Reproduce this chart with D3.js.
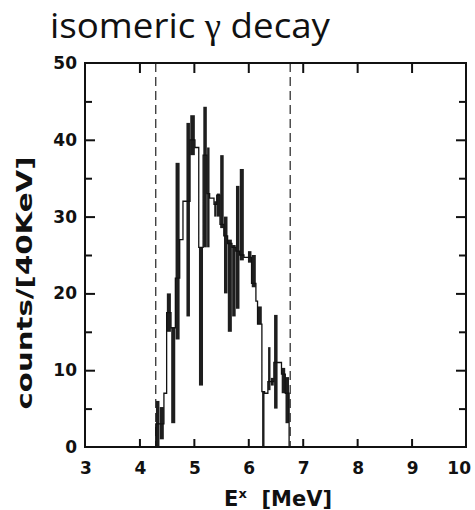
<!doctype html>
<meta charset="utf-8">
<style>
body { margin: 0; background: #fff; }
svg text { fill: #111; }
.tick-lbl { font-family: "DejaVu Sans", sans-serif; font-weight: bold; font-size: 17px; }
</style>
<body>
<div id="viz"></div>
<script src="https://cdn.jsdelivr.net/npm/d3@7"></script>
<script>
// histogram bins (left edge in MeV), last bin ends at binEnd
var binLeft = [4.30, 4.37, 4.45, 4.50, 4.58, 4.66, 4.74, 4.80, 4.86, 4.93, 5.02, 5.09,
               5.17, 5.24, 5.29, 5.37, 5.42, 5.48, 5.55, 5.62, 5.70, 5.77, 5.84, 5.92,
               5.99, 6.06, 6.14, 6.17, 6.25, 6.30, 6.36, 6.41, 6.47, 6.54, 6.61, 6.68];
var binEnd = 6.75;
var counts = [3, 3, 7, 17.5, 15.5, 22, 27, 32, 32, 40, 39, 26,
              38, 33, 32.4, 31.6, 32.8, 29, 27.5, 26.5, 26, 25.5, 25, 24.7,
              24.7, 21.3, 19, 16, 7.2, 7, 8.5, 8.5, 11, 11, 9.5, 7];
// thick error bars (null = none)
var errLo = [0, 1, null, 15, 3.1, 14, null, null, 17, 38, null, 8,
             26, 26, null, 30, 30, 28.5, 20, 15, 17, 18, 24.3, null,
             24, 20.8, null, 16, 0, null, 7.4, 8, 5, null, 7, 3.1];
var errHi = [6, 5.2, null, 20, 15.6, 37, null, null, 42.2, 43.2, null, 26,
             44.3, 39, null, 32, 33, 38, 30, 27, 26.3, 34, 36.2, null,
             25.5, 25, null, 18.3, 7.2, null, 13, 9, 17.2, null, 10.3, 9.1];
var cutLines = [4.30, 6.77];
var xTicks = [3, 4, 5, 6, 7, 8, 9, 10];
var yTicks = [0, 10, 20, 30, 40, 50];
var yMinor = [5, 15, 25, 35, 45];

var W = 475, H = 510;
var svg = d3.select("#viz").append("svg").attr("width", W).attr("height", H);

var x = d3.scaleLinear().domain([3, 10]).range([85, 466]);
var y = d3.scaleLinear().domain([0, 50]).range([447, 63]);

// title
var tt = svg.append("text").attr("x", 50).attr("y", 38)
    .style("font-family", "'Open Sans', sans-serif").style("font-size", "35px")
    .attr("textLength", 280).attr("lengthAdjust", "spacingAndGlyphs");
tt.append("tspan").text("isomeric ");
tt.append("tspan").style("font-family", "'Liberation Serif', serif").text("γ");
tt.append("tspan").text(" decay");

// dashed cut lines
svg.selectAll("line.cut").data(cutLines).enter().append("line")
    .attr("class", "cut")
    .attr("x1", d => x(d)).attr("x2", d => x(d))
    .attr("y1", y(50)).attr("y2", y(0))
    .attr("stroke", "#222").attr("stroke-width", 1.2)
    .attr("stroke-dasharray", "9,5");

// error bars
var bins = binLeft.map(function(d, i) {
    return {x0: d, x1: i < binLeft.length - 1 ? binLeft[i + 1] : binEnd,
            c: counts[i], lo: errLo[i], hi: errHi[i]};
});
svg.selectAll("rect.err").data(bins.filter(d => d.lo !== null)).enter().append("rect")
    .attr("class", "err")
    .attr("x", d => x(d.x0) + 0.2)
    .attr("width", d => x(d.x1) - x(d.x0) - 0.3)
    .attr("y", d => y(d.hi))
    .attr("height", d => y(d.lo) - y(d.hi))
    .attr("fill", "#1e1e1e");

// step line
var pts = [[binLeft[0], 0]];
bins.forEach(function(d) { pts.push([d.x0, d.c]); });
pts.push([binEnd, counts[counts.length - 1]]);
pts.push([binEnd, 0]);
var line = d3.line().x(d => x(d[0])).y(d => y(d[1])).curve(d3.curveStepAfter);
svg.append("path").datum(pts).attr("d", line)
    .attr("fill", "none").attr("stroke", "#111").attr("stroke-width", 1.3);

// frame
svg.append("rect").attr("x", x(3)).attr("y", y(50))
    .attr("width", x(10) - x(3)).attr("height", y(0) - y(50))
    .attr("fill", "none").attr("stroke", "#111").attr("stroke-width", 2);

// axes with inward ticks
var gB = svg.append("g").attr("transform", "translate(0," + y(0) + ")")
    .call(d3.axisBottom(x).tickValues(xTicks.slice(1, -1)).tickSizeInner(-8).tickSizeOuter(0).tickFormat(""));
var gT = svg.append("g").attr("transform", "translate(0," + y(50) + ")")
    .call(d3.axisTop(x).tickValues(xTicks.slice(1, -1)).tickSizeInner(-10).tickSizeOuter(0).tickFormat(""));
var gL = svg.append("g").attr("transform", "translate(" + x(3) + ",0)")
    .call(d3.axisLeft(y).tickValues(yTicks.slice(1, -1)).tickSizeInner(-10).tickSizeOuter(0).tickFormat(""));
var gLm = svg.append("g").attr("transform", "translate(" + x(3) + ",0)")
    .call(d3.axisLeft(y).tickValues(yMinor).tickSizeInner(-7).tickSizeOuter(0).tickFormat(""));
var gR = svg.append("g").attr("transform", "translate(" + x(10) + ",0)")
    .call(d3.axisRight(y).tickValues(yTicks.slice(1, -1)).tickSizeInner(-10).tickSizeOuter(0).tickFormat(""));
var gRm = svg.append("g").attr("transform", "translate(" + x(10) + ",0)")
    .call(d3.axisRight(y).tickValues(yMinor).tickSizeInner(-7).tickSizeOuter(0).tickFormat(""));
[gB, gT, gL, gLm, gR, gRm].forEach(function(g) {
    g.select(".domain").remove();
    g.selectAll(".tick line").attr("stroke", "#111").attr("stroke-width", 2);
});

// tick labels
svg.selectAll("text.xl").data(xTicks).enter().append("text")
    .attr("class", "tick-lbl")
    .attr("text-anchor", d => d === 10 ? "end" : "middle")
    .attr("x", d => d === 10 ? 471 : x(d) + 1).attr("y", 474).text(d => d);
svg.selectAll("text.yl").data(yTicks).enter().append("text")
    .attr("class", "tick-lbl").attr("text-anchor", "end")
    .attr("x", 77).attr("y", d => y(d) + 6).text(d => d);

// axis titles
var xt = svg.append("text").attr("x", 278).attr("y", 506).attr("text-anchor", "middle")
    .style("font-family", "'DejaVu Sans', sans-serif").style("font-weight", "bold").style("font-size", "21px");
xt.append("tspan").text("E");
xt.append("tspan").attr("dy", -8).style("font-size", "13px").text("x");
xt.append("tspan").attr("dy", 8).text("  [MeV]").attr("xml:space", "preserve");

svg.append("text").attr("transform", "translate(32,283) rotate(-90)")
    .attr("text-anchor", "middle")
    .style("font-family", "'DejaVu Sans', sans-serif").style("font-weight", "bold").style("font-size", "22px")
    .attr("textLength", 253).attr("lengthAdjust", "spacingAndGlyphs")
    .text("counts/[40KeV]");
</script>
</body>
</html>
